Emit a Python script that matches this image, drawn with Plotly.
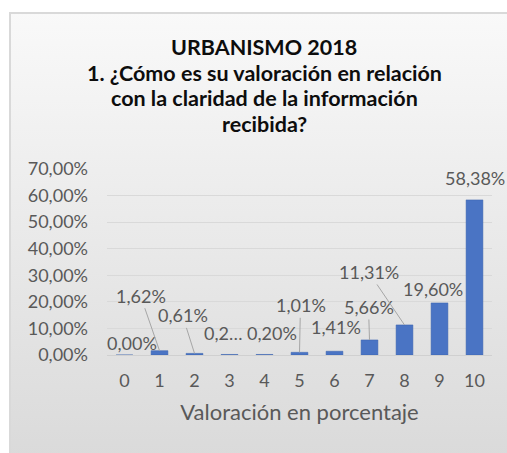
import base64
import plotly.graph_objects as go

# ---- data ----
categories = ["0", "1", "2", "3", "4", "5", "6", "7", "8", "9", "10"]
values = [0.00, 1.62, 0.61, 0.20, 0.20, 1.01, 1.41, 5.66, 11.31, 19.60, 58.38]
label_texts = ["0,00%", "1,62%", "0,61%", "0,2…", "0,20%", "1,01%", "1,41%",
               "5,66%", "11,31%", "19,60%", "58,38%"]
y_ticks = [0, 10, 20, 30, 40, 50, 60, 70]
y_tick_labels = ["0,00%", "10,00%", "20,00%", "30,00%", "40,00%", "50,00%", "60,00%", "70,00%"]
title_lines = ["URBANISMO 2018",
               "1. ¿Cómo es su valoración en relación",
               "con la claridad de la información",
               "recibida?"]
x_title = "Valoración en porcentaje"

# ---- label placement (pixel offsets, leader line flag) ----
label_offsets = [(7, -12, False), (-19, -55, True), (-12, -38, True), (-7, -21, False),
                 (7, -21, False), (1, -47, True), (1, -24, False), (-1, -33, True),
                 (-36, -53, True), (-7, -14, False), (0, -22, False)]
# title line vertical centres (px from top of figure)
title_centres = [47, 73, 98.5, 124]

W, H = 507, 453
L, R, T, B = 107, 15, 169, 98
pw, ph = W - L - R, H - T - B

FONT = "Lato"
GRAY = "#595959"


def px2x(px):
    return (px - L) / pw


def py2y(py):
    return (H - B - py) / ph


fig = go.Figure()
fig.add_trace(go.Bar(
    x=categories, y=values,
    marker=dict(color="#4a74c4", line=dict(color="#3a62ad", width=0.5)),
    width=0.48,
    hoverinfo="skip",
))

annotations = []
for c, v, t, (dx, dy, arrow) in zip(categories, values, label_texts, label_offsets):
    if arrow:
        annotations.append(dict(x=c, y=v, xref="x", yref="y", text=t, showarrow=True,
                                ax=dx, ay=dy, arrowhead=0, arrowwidth=1,
                                arrowcolor="#a6a6a6", standoff=0, startstandoff=0,
                                font=dict(family=FONT, size=18, color=GRAY)))
    else:
        annotations.append(dict(x=c, y=v, xref="x", yref="y", text=t, showarrow=False,
                                xshift=dx, yshift=-dy,
                                font=dict(family=FONT, size=18, color=GRAY)))

for line, cy in zip(title_lines, title_centres):
    annotations.append(dict(x=px2x(264), y=py2y(cy), xref="paper", yref="paper",
                            text=line, showarrow=False, xanchor="center", yanchor="middle",
                            font=dict(family=FONT, size=21.5, color="#0d0d0d", weight="bold")))

# background: gradient chart panel with a light border, drawn over the whole figure
svg = (f'<svg xmlns="http://www.w3.org/2000/svg" viewBox="0 0 {W} {H}" '
       f'preserveAspectRatio="none" width="{W}" height="{H}">'
       '<defs><linearGradient id="g" x1="0" y1="0" x2="0" y2="1">'
       '<stop offset="0" stop-color="#f9f9f9"/><stop offset="1" stop-color="#d8d8d8"/>'
       '</linearGradient></defs>'
       f'<rect x="0" y="0" width="{W}" height="{H}" fill="#ffffff"/>'
       f'<rect x="10" y="13" width="{W + 20}" height="{H + 20}" fill="url(#g)" '
       'stroke="#d9d9d9" stroke-width="2"/></svg>')
src = "data:image/svg+xml;base64," + base64.b64encode(svg.encode()).decode()

fig.update_layout(
    width=W, height=H,
    margin=dict(l=L, r=R, t=T, b=B, autoexpand=False),
    paper_bgcolor="white",
    plot_bgcolor="rgba(0,0,0,0)",
    showlegend=False,
    xaxis=dict(type="category", range=[-0.5, 10.5], autorange=False,
               showgrid=False, showline=True, linecolor="#d0d0d0",
               linewidth=1, ticks="", tickfont=dict(family=FONT, size=18, color=GRAY),
               ticklabelstandoff=9,
               title=dict(text=x_title, font=dict(family=FONT, size=22, color=GRAY),
                          standoff=15)),
    yaxis=dict(range=[0, 70], tickvals=y_ticks, ticktext=y_tick_labels,
               showgrid=True, gridcolor="#d9d9d9", gridwidth=1, zeroline=False,
               showline=False, ticks="", ticklabelstandoff=18,
               tickfont=dict(family=FONT, size=18, color=GRAY)),
    annotations=annotations,
    images=[dict(source=src, xref="paper", yref="paper",
                 x=px2x(0), y=py2y(0), sizex=px2x(W) - px2x(0),
                 sizey=py2y(0) - py2y(H), xanchor="left", yanchor="top",
                 sizing="stretch", layer="below")],
)

fig.write_html("out.html", config={"displayModeBar": False},
               post_script="document.body.style.margin='0';document.body.style.overflow='hidden';")
